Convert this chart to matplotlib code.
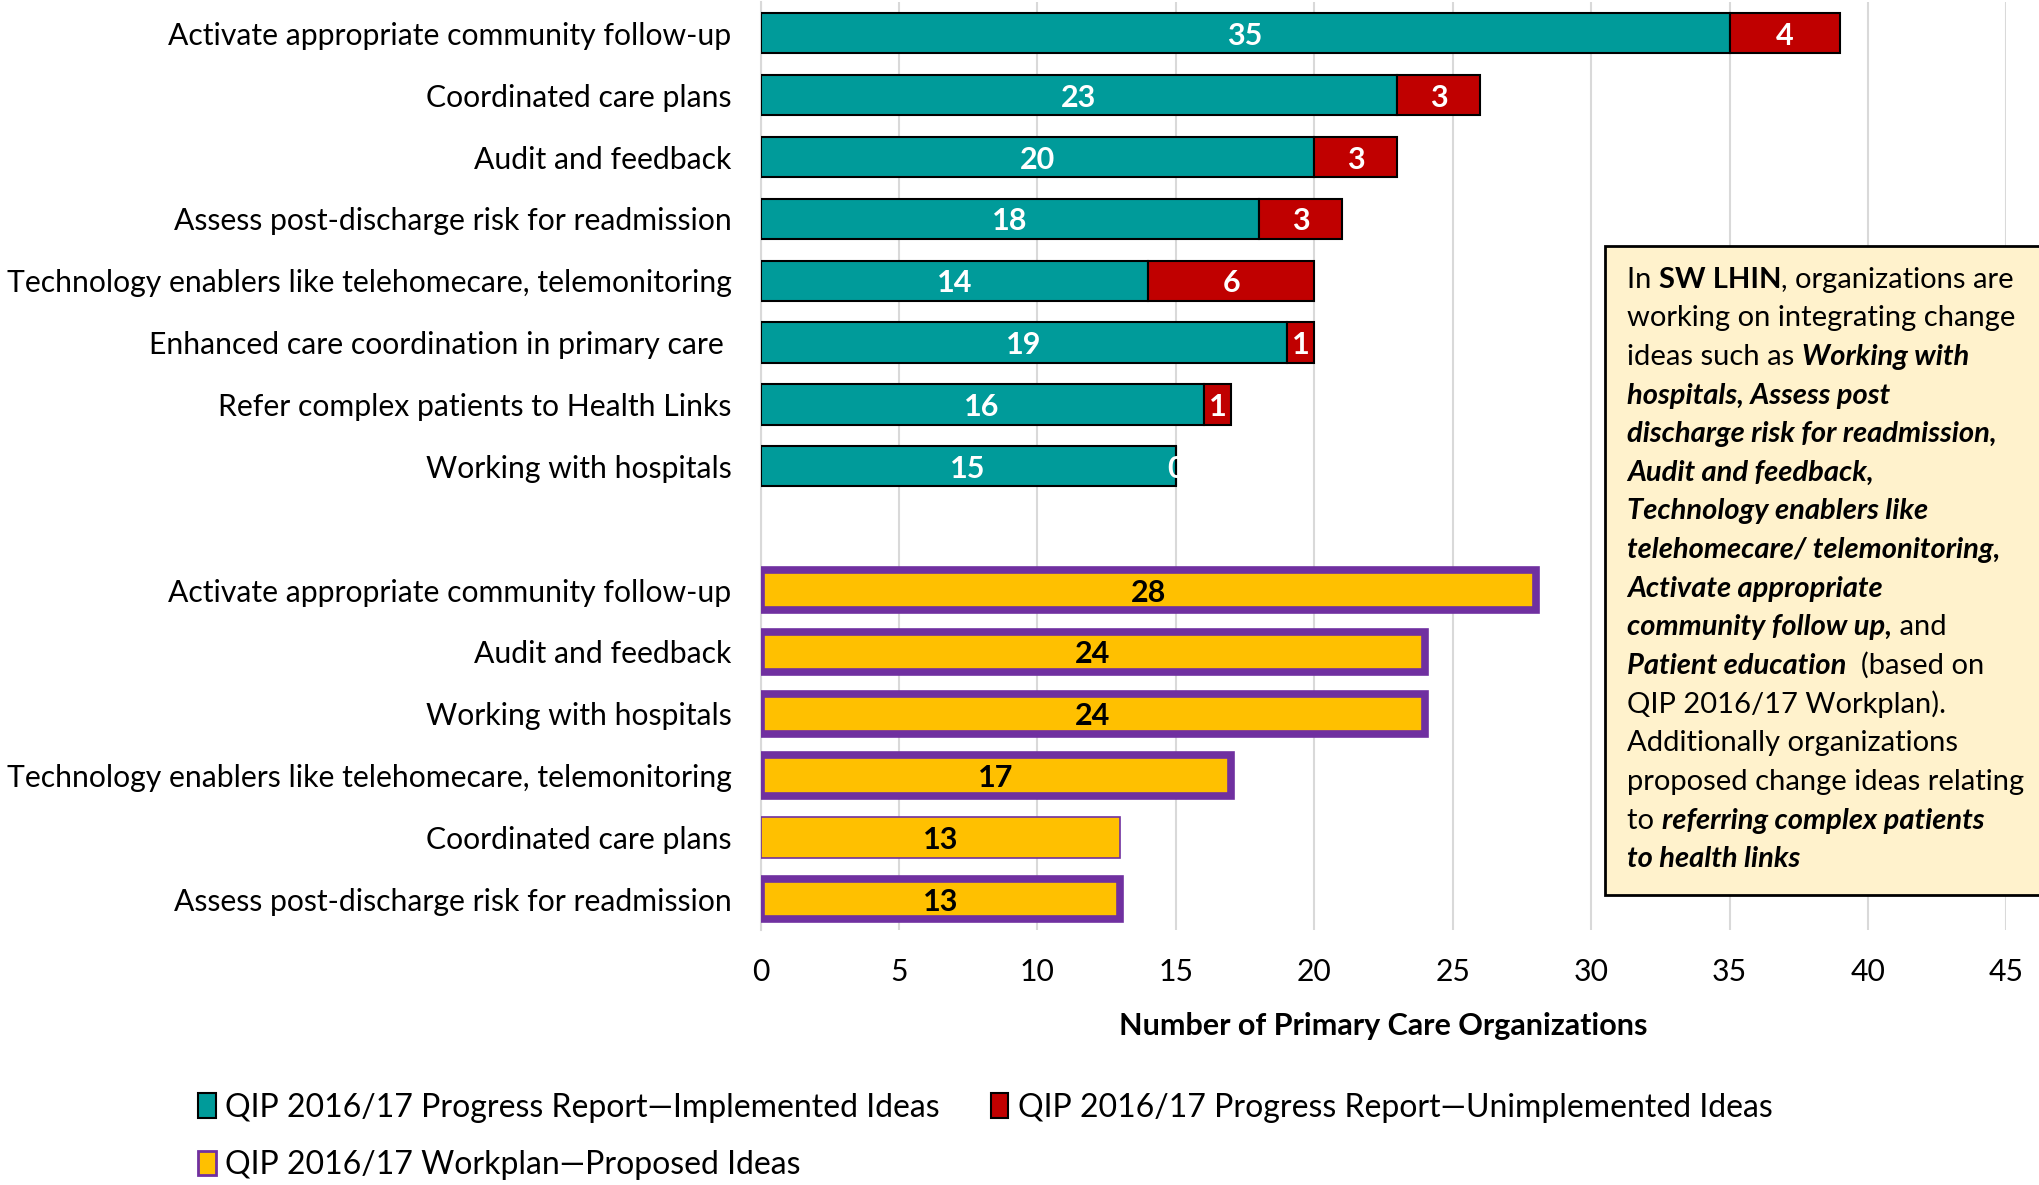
import matplotlib.pyplot as plt
from matplotlib.patches import Rectangle, Patch
from matplotlib.text import Annotation

plt.rcParams['font.family'] = ['Lato', 'DejaVu Sans']

# progress report (top group)
top_labels = ['Activate appropriate community follow-up', 'Coordinated care plans',
              'Audit and feedback', 'Assess post-discharge risk for readmission',
              'Technology enablers like telehomecare, telemonitoring',
              'Enhanced care coordination in primary care ',
              'Refer complex patients to Health Links', 'Working with hospitals']
implemented = [35, 23, 20, 18, 14, 19, 16, 15]
unimplemented = [4, 3, 3, 3, 6, 1, 1, 0]

# workplan (bottom group)
plan_labels = ['Activate appropriate community follow-up', 'Audit and feedback',
               'Working with hospitals',
               'Technology enablers like telehomecare, telemonitoring',
               'Coordinated care plans', 'Assess post-discharge risk for readmission']
proposed = [28, 24, 24, 17, 13, 13]
plan_thick_edge = [True, True, True, True, False, True]

teal = '#009B9A'
red = '#C00000'
yellow = '#FFC000'
purple = '#7030A0'
fs = 21.7

fig = plt.figure(figsize=(20.39, 11.85), dpi=100)
ax = fig.add_axes([0.373, 0.215, 0.611, 0.783])

top_pos = list(range(len(top_labels)))
plan_pos = [len(top_labels) + 1 + i for i in range(len(plan_labels))]
h = 0.65

ax.barh(top_pos, implemented, height=h, color=teal, edgecolor='black', linewidth=1.5, zorder=3)
ax.barh(top_pos, unimplemented, left=implemented, height=h, color=red,
        edgecolor='black', linewidth=1.5, zorder=3)
for y, a, b in zip(top_pos, implemented, unimplemented):
    ax.text(a / 2, y, str(a), ha='center', va='center_baseline', color='white',
            fontsize=22, fontweight='bold', zorder=4)
    ax.text(a + b / 2, y, str(b), ha='center', va='center_baseline', color='white',
            fontsize=22, fontweight='bold', zorder=4)

for y, v, thick in zip(plan_pos, proposed, plan_thick_edge):
    ax.barh(y, v, height=h, color=yellow, edgecolor=purple,
            linewidth=5.5 if thick else 1.2, zorder=3)
    ax.text(v / 2, y, str(v), ha='center', va='center_baseline', color='black',
            fontsize=22, fontweight='bold', zorder=4)

ax.set_yticks(top_pos + plan_pos)
ax.set_yticklabels(top_labels + plan_labels, fontsize=fs)
ax.set_ylim(len(top_labels) + len(plan_labels) + 0.5, -0.5)
ax.set_xlim(0, 45)
ax.set_xticks(range(0, 46, 5))
ax.tick_params(axis='x', labelsize=fs, length=0, pad=20)
ax.tick_params(axis='y', length=0, pad=21)
ax.grid(axis='x', color='#D9D9D9', linewidth=1.5, zorder=0)
ax.set_axisbelow(True)
for s in ['top', 'right', 'bottom']:
    ax.spines[s].set_visible(False)
ax.spines['left'].set_color('#D9D9D9')
ax.spines['left'].set_linewidth(1.5)
ax.set_xlabel('Number of Primary Care Organizations', fontsize=22, fontweight='bold', labelpad=19)

# legend, reordered so it reads row by row
handles = [Patch(facecolor=teal, edgecolor='black', linewidth=1.5),
           Patch(facecolor=yellow, edgecolor=purple, linewidth=2),
           Patch(facecolor=red, edgecolor='black', linewidth=1.5)]
names = ['QIP 2016/17 Progress Report\u2014Implemented Ideas',
         'QIP 2016/17 Workplan\u2014Proposed Ideas',
         'QIP 2016/17 Progress Report\u2014Unimplemented Ideas']
fig.legend(handles, names, ncol=2, loc='lower left', bbox_to_anchor=(0.083, -0.02),
           frameon=False, fontsize=23, handlelength=0.55, handleheight=0.8,
           handletextpad=0.3, columnspacing=1.6, labelspacing=0.85)

# annotation box
box = Rectangle((0.787, 0.245), 0.25, 0.5475, transform=fig.transFigure,
                facecolor='#FFF2CC', edgecolor='black', linewidth=2, zorder=10)
fig.add_artist(box)

N, B, BI = 'normal', 'bold', 'bolditalic'
box_lines = [
    [('In ', N), ('SW LHIN', B), (', organizations are', N)],
    [('working on integrating change', N)],
    [('ideas such as ', N), ('Working with', BI)],
    [('hospitals, Assess post', BI)],
    [('discharge risk for readmission,', BI)],
    [('Audit and feedback,', BI)],
    [('Technology enablers like', BI)],
    [('telehomecare/ telemonitoring,', BI)],
    [('Activate appropriate', BI)],
    [('community follow up,', BI), (' and', N)],
    [('Patient education', BI), ('  (based on', N)],
    [('QIP 2016/17 Workplan).', N)],
    [('Additionally organizations', N)],
    [('proposed change ideas relating', N)],
    [('to ', N), ('referring complex patients', BI)],
    [('to health links', BI)],
]
y0 = 0.753
dy = 0.0326
for i, line in enumerate(box_lines):
    prev = None
    for txt, style in line:
        kw = dict(fontsize=21, zorder=11, va='bottom', ha='left')
        if style in (B, BI):
            kw['fontweight'] = 'bold'
        if style == BI:
            kw['fontstyle'] = 'italic'
        if prev is None:
            prev = fig.text(0.798, y0 - i * dy, txt, **kw)
        else:
            prev = fig.add_artist(Annotation(txt, xy=(1, 0), xycoords=prev,
                                             annotation_clip=False, **kw))

fig.savefig('out.png', dpi=100)
